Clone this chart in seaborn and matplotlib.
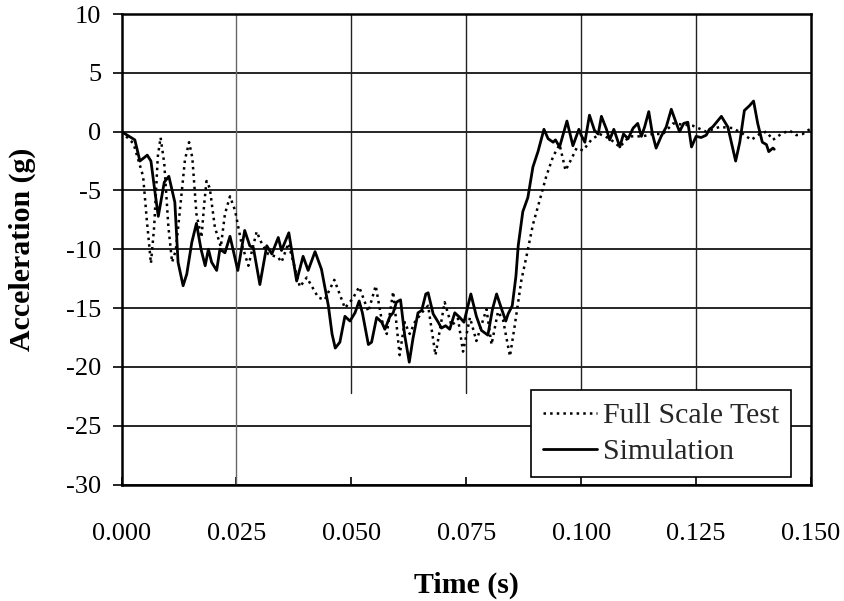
import matplotlib
matplotlib.use("Agg")
import matplotlib.pyplot as plt
import seaborn as sns
import numpy as np
import pandas as pd

# ---- data ----
test_t = [0.0000, 0.0015, 0.0026, 0.0047, 0.0055, 0.0064, 0.0071, 0.0079, 0.0085, 0.0093,
          0.0102, 0.0110, 0.0118, 0.0127, 0.0138, 0.0147, 0.0154, 0.0163, 0.0174, 0.0180,
          0.0185, 0.0192, 0.0203, 0.0216, 0.0225, 0.0236, 0.0247, 0.0261, 0.0276, 0.0294,
          0.0305, 0.0319, 0.0341, 0.0348, 0.0363, 0.0388, 0.0403, 0.0428, 0.0442, 0.0463,
          0.0486, 0.0503, 0.0517, 0.0537, 0.0553, 0.0566, 0.0577, 0.0591, 0.0605, 0.0616,
          0.0627, 0.0638, 0.0653, 0.0667, 0.0683, 0.0703, 0.0718, 0.0732, 0.0743, 0.0758,
          0.0772, 0.0794, 0.0805, 0.0819, 0.0830, 0.0845, 0.0855, 0.0870, 0.0881, 0.0895,
          0.0910, 0.0924, 0.0939, 0.0953, 0.0966, 0.0979, 0.0990, 0.1004, 0.1022, 0.1040,
          0.1062, 0.1084, 0.1105, 0.1134, 0.1155, 0.1178, 0.1200, 0.1221, 0.1243, 0.1272,
          0.1301, 0.1330, 0.1352, 0.1370, 0.1388, 0.1403, 0.1417, 0.1435, 0.1453, 0.1468,
          0.1482, 0.1497]
test_g = [0.0, -0.6, -1.0, -3.8, -7.5, -11.2, -8.1, -2.1, -0.5, -2.7,
          -8.1, -11.1, -10.1, -6.7, -2.4, -0.9, -2.2, -7.0, -9.0, -6.1,
          -4.2, -4.8, -8.1, -9.8, -7.0, -5.5, -6.7, -9.5, -11.4, -8.5,
          -9.5, -10.4, -10.7, -11.1, -9.5, -13.2, -12.4, -14.1, -14.3, -12.6,
          -15.0, -14.2, -13.2, -15.3, -13.1, -16.0, -17.2, -13.6, -19.0, -16.2,
          -17.2, -16.2, -15.4, -14.8, -19.0, -14.5, -16.5, -15.9, -18.7, -15.8,
          -17.8, -15.1, -18.1, -15.3, -16.0, -19.1, -16.6, -12.6, -10.6, -7.9,
          -5.8, -3.8, -2.1, -1.1, -3.3, -2.3, -1.4, -1.6, -0.7, -0.2,
          -0.6, -1.3, -0.4, -0.4, -0.2, -0.2, 0.7, 0.6, 0.5, 0.0,
          0.4, 0.3, -0.2, -0.7, -0.2, 0.0, -0.7, -0.2, 0.1, -0.3,
          -0.2, 0.2]

sim_t = [0.0000, 0.0029, 0.0040, 0.0056, 0.0064, 0.0073, 0.0080, 0.0093, 0.0103, 0.0116,
         0.0123, 0.0134, 0.0142, 0.0153, 0.0163, 0.0173, 0.0182, 0.0189, 0.0196, 0.0207,
         0.0214, 0.0225, 0.0236, 0.0253, 0.0268, 0.0279, 0.0287, 0.0301, 0.0316, 0.0327,
         0.0341, 0.0348, 0.0364, 0.0381, 0.0395, 0.0406, 0.0421, 0.0435, 0.0450, 0.0458,
         0.0465, 0.0475, 0.0486, 0.0497, 0.0508, 0.0517, 0.0524, 0.0537, 0.0544, 0.0555,
         0.0566, 0.0573, 0.0584, 0.0591, 0.0598, 0.0607, 0.0616, 0.0626, 0.0634, 0.0645,
         0.0653, 0.0662, 0.0667, 0.0678, 0.0689, 0.0696, 0.0705, 0.0714, 0.0725, 0.0736,
         0.0745, 0.0760, 0.0772, 0.0783, 0.0797, 0.0807, 0.0816, 0.0827, 0.0836, 0.0841,
         0.0850, 0.0858, 0.0863, 0.0873, 0.0884, 0.0895, 0.0906, 0.0919, 0.0928, 0.0939,
         0.0944, 0.0953, 0.0969, 0.0982, 0.0995, 0.1000, 0.1008, 0.1018, 0.1029, 0.1037,
         0.1044, 0.1055, 0.1062, 0.1071, 0.1084, 0.1092, 0.1102, 0.1113, 0.1123, 0.1131,
         0.1138, 0.1147, 0.1155, 0.1163, 0.1174, 0.1185, 0.1196, 0.1207, 0.1214, 0.1223,
         0.1232, 0.1240, 0.1250, 0.1261, 0.1272, 0.1279, 0.1286, 0.1305, 0.1319, 0.1336,
         0.1345, 0.1355, 0.1366, 0.1375, 0.1384, 0.1394, 0.1403, 0.1408, 0.1417, 0.1420]
sim_g = [0.0, -0.7, -2.5, -2.0, -2.5, -5.2, -7.2, -4.3, -3.8, -6.0,
         -11.1, -13.1, -12.1, -9.4, -7.8, -10.0, -11.4, -10.0, -11.1, -11.8,
         -10.0, -10.3, -8.9, -11.8, -8.4, -9.7, -9.9, -13.0, -9.7, -10.4,
         -9.0, -10.1, -8.6, -12.7, -10.6, -11.8, -10.2, -11.7, -14.8, -17.2,
         -18.4, -17.9, -15.7, -16.1, -15.4, -14.4, -15.4, -18.1, -17.9, -15.8,
         -16.2, -16.8, -15.7, -15.4, -14.5, -14.3, -17.3, -19.6, -17.6, -15.4,
         -15.2, -13.8, -13.7, -15.5, -16.2, -16.7, -16.5, -16.8, -15.4, -15.8,
         -16.2, -13.8, -15.7, -16.9, -17.3, -15.1, -13.8, -15.1, -16.1, -15.5,
         -14.8, -12.3, -9.7, -6.8, -5.6, -3.0, -1.7, 0.2, -0.6, -0.9,
         -0.7, -1.3, 0.9, -1.2, 0.2, -0.3, -0.9, 1.4, 0.1, -0.2,
         1.3, 0.2, -0.7, 0.2, -1.3, -0.2, -0.6, 0.3, 0.7, -0.4,
         0.4, 1.7, -0.2, -1.4, -0.4, 0.4, 1.9, 0.7, 0.0, 0.7,
         0.8, -1.3, -0.4, -0.5, -0.3, 0.2, 0.4, 1.3, 0.4, -2.5,
         -0.9, 1.8, 2.2, 2.6, 0.7, -0.9, -1.1, -1.7, -1.4, -1.5]

x_ticks = [0.000, 0.025, 0.050, 0.075, 0.100, 0.125, 0.150]
x_labels = ["0.000", "0.025", "0.050", "0.075", "0.100", "0.125", "0.150"]
y_ticks = [10, 5, 0, -5, -10, -15, -20, -25, -30]
series_names = ["Full Scale Test", "Simulation"]

# ---- style ----
sns.set_theme(style="white")
plt.rcParams["font.family"] = ["Liberation Serif", "DejaVu Serif"]

fig = plt.figure(figsize=(8.45, 6.01), dpi=100)
ax = fig.add_axes([0.1438, 0.1938, 0.9598 - 0.1438, 0.9767 - 0.1938])

ax.set_xlim(0, 0.150)
ax.set_ylim(-30, 10)

# gridlines
for yv in y_ticks:
    ax.axhline(yv, color="black", lw=1.2, zorder=1)
for xv in x_ticks[1:-1]:
    if xv == 0.025:
        ax.axvline(xv, color="#666666", lw=1.0, zorder=1)
    else:
        ax.axvline(xv, ymin=(-22.2 + 30) / 40, ymax=1, color="#222222", lw=1.0, zorder=1)

sns.lineplot(x=test_t, y=test_g, ax=ax, color="black", lw=1.8,
             linestyle=":", label=series_names[0], sort=False, estimator=None, zorder=3)
sns.lineplot(x=sim_t, y=sim_g, ax=ax, color="black", lw=2.0,
             linestyle="-", label=series_names[1], sort=False, estimator=None, zorder=4)

ax.set_xticks(x_ticks)
ax.set_xticklabels(x_labels)
ax.set_yticks(y_ticks)
ax.set_yticklabels([str(v) for v in y_ticks])
ax.tick_params(axis="x", direction="in", length=6, width=1.2, color="black",
               labelsize=19, pad=28, bottom=True)
ax.tick_params(axis="y", direction="out", length=6.5, width=1.2, color="black",
               labelsize=19, pad=8, left=True)
for lab in ax.get_xticklabels() + ax.get_yticklabels():
    lab.set_color("black")

for sp in ax.spines.values():
    sp.set_visible(True)
    sp.set_color("black")
    sp.set_linewidth(1.8)
    sp.set_zorder(5)

ax.set_xlabel("Time (s)", fontsize=21.5, fontweight="bold", color="black", labelpad=19)
ax.set_ylabel("Acceleration (g)", fontsize=21.5, fontweight="bold", color="black", labelpad=22)

leg = ax.legend(loc="lower right", bbox_to_anchor=(0.971, 0.016), borderaxespad=0,
                fontsize=21.5, frameon=True, fancybox=False, framealpha=1,
                edgecolor="black", handlelength=1.8, handletextpad=0.2,
                borderpad=0.4, labelspacing=0.3)
leg.get_frame().set_linewidth(1.2)
leg.set_zorder(6)

fig.savefig("out.png", dpi=100)
